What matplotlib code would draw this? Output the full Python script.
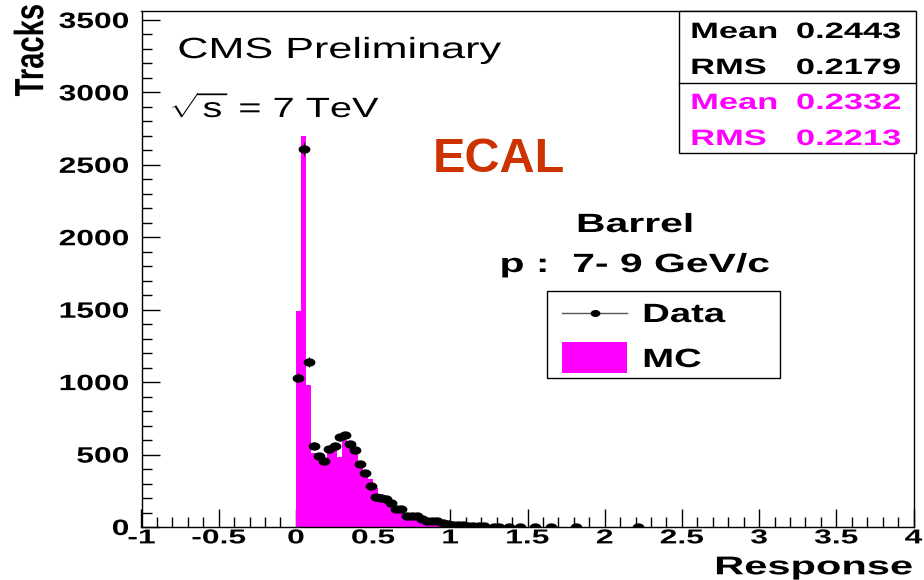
import numpy as np
import matplotlib
matplotlib.use("Agg")
import matplotlib.pyplot as plt
from matplotlib.patches import Rectangle
from matplotlib.lines import Line2D
from matplotlib.path import Path
from matplotlib.patheffects import AbstractPathEffect
from matplotlib.transforms import Affine2D
from matplotlib.ticker import MultipleLocator

# ---- histogram definition -------------------------------------------------
x_min, x_max, n_bins = -1.0, 4.0, 150
first_filled_bin = 30          # bin whose lower edge is Response = 0

# Data counts per bin, starting at Response = 0 (bin width 1/30)
data_counts = [1030, 2610, 1140, 560, 490, 455, 535, 560, 620, 632,
               573, 530, 435, 370, 280, 205, 200, 190, 163, 122,
               122, 77, 76, 75, 55, 42, 41, 40, 26, 24,
               16, 13, 12, 8, 8, 6, 5, 0, 3, 3,
               0, 2, 0, 2, 0, 0, 1, 0, 0, 1,
               0, 0, 0, 0, 1, 0, 0, 0, 0, 0,
               0, 0, 0, 0, 0, 0, 1]

# Simulation counts per bin, starting at Response = 0
mc_counts = [1490, 2700, 980, 510, 483, 451, 520, 540, 485, 600,
             573, 520, 451, 393, 329, 267, 228, 170, 152, 138,
             110, 92, 76, 62, 50, 40, 33, 27, 22, 18,
             14, 11, 9, 7, 6, 5, 4, 3, 3, 2,
             2, 2, 1, 1, 1, 1]

stat_labels = ["Mean", "RMS"]
data_stats = ["0.2443", "0.2179"]
mc_stats = ["0.2332", "0.2213"]

x_ticks = [-1, -0.5, 0, 0.5, 1, 1.5, 2, 2.5, 3, 3.5, 4]
y_ticks = [0, 500, 1000, 1500, 2000, 2500, 3000, 3500]

MAGENTA = "#ff00ff"
ECAL_COLOR = "#cc3300"
W, H = 924, 580


class WideGlyphs(AbstractPathEffect):
    """Render glyphs widened horizontally around an anchor edge."""

    def __init__(self, factor=1.5, anchor="left"):
        super().__init__()
        self.factor = factor
        self.anchor = anchor

    def draw_path(self, renderer, gc, tpath, affine, rgbFace=None):
        ext = tpath.get_extents(affine)
        if self.anchor == "left":
            x0 = ext.x0
        elif self.anchor == "right":
            x0 = ext.x1
        else:
            x0 = 0.5 * (ext.x0 + ext.x1)
        widen = Affine2D().translate(-x0, 0).scale(self.factor, 1).translate(x0, 0)
        renderer.draw_path(gc, tpath, affine + widen, rgbFace)


def fx(px):
    return px / W


def fy(py):
    return 1 - py / H


plt.rcParams["font.family"] = ["Liberation Sans", "DejaVu Sans"]
plt.rcParams["mathtext.fontset"] = "custom"
plt.rcParams["mathtext.rm"] = "Liberation Sans"
plt.rcParams["mathtext.it"] = "Liberation Sans"

fig = plt.figure(figsize=(W / 100, H / 100), dpi=100)
ax = fig.add_axes([fx(141.5), fy(527), fx(913.5) - fx(141.5), fy(11) - fy(527)])

edges = np.linspace(x_min, x_max, n_bins + 1)
centers = 0.5 * (edges[:-1] + edges[1:])
data_full = np.zeros(n_bins)
data_full[first_filled_bin:first_filled_bin + len(data_counts)] = data_counts
mc_full = np.zeros(n_bins)
mc_full[first_filled_bin:first_filled_bin + len(mc_counts)] = mc_counts

# simulation as a filled histogram
ax.stairs(mc_full, edges, fill=True, color=MAGENTA, lw=0, zorder=2)

# data points with Poisson errors
ellipse = Path.unit_circle().transformed(Affine2D().scale(1.5, 1.0))
mask = data_full > 0
ax.errorbar(centers[mask], data_full[mask], yerr=np.sqrt(data_full[mask]),
            fmt="none", ecolor="black", elinewidth=0.8, capsize=0, zorder=3)
ax.plot(centers[mask], data_full[mask], linestyle="none", marker=ellipse,
        markersize=7.5, color="black", zorder=4)

ax.set_xlim(x_min, x_max)
ax.set_ylim(0, 3562)
ax.set_xticks(x_ticks)
ax.set_xticklabels([f"{t:g}" for t in x_ticks])
ax.set_yticks(y_ticks)
ax.xaxis.set_minor_locator(MultipleLocator(0.1))
ax.yaxis.set_minor_locator(MultipleLocator(100))
ax.tick_params(which="both", direction="in", top=False, right=False, width=1)
ax.tick_params(which="major", length=13)
ax.tick_params(which="minor", length=7)
ax.tick_params(axis="x", pad=1, labelsize=14.5)
ax.tick_params(axis="y", pad=9, labelsize=16)
for sp in ax.spines.values():
    sp.set_linewidth(1)

for lbl in ax.get_xticklabels():
    lbl.set_fontweight("bold")
    lbl.set_path_effects([WideGlyphs(1.58, "center")])
for lbl in ax.get_yticklabels():
    lbl.set_fontweight("bold")
    lbl.set_path_effects([WideGlyphs(1.43, "right")])

# axis titles
fig.text(fx(913), fy(574.3), "Response", ha="right", va="baseline",
         fontsize=18.5, fontweight="bold",
         path_effects=[WideGlyphs(1.62, "right")])
fig.text(fx(45), fy(4), "Tracks", ha="right", va="top", rotation=90,
         fontsize=21, fontweight="bold",
         path_effects=[WideGlyphs(1.4, "center")])

# annotations
fig.text(fx(178), fy(58), "CMS Preliminary", ha="left", va="baseline",
         fontsize=21, path_effects=[WideGlyphs(1.48, "left")])
fig.text(fx(170), fy(117), r"$\sqrt{s}$ = 7 TeV", ha="left", va="baseline",
         fontsize=20, path_effects=[WideGlyphs(1.43, "left")])
fig.text(fx(433), fy(172), "ECAL", ha="left", va="baseline",
         fontsize=35, fontweight="bold", color=ECAL_COLOR)
fig.text(fx(635), fy(232), "Barrel", ha="center", va="baseline",
         fontsize=19, fontweight="bold",
         path_effects=[WideGlyphs(1.55, "center")])
fig.text(fx(635), fy(272), "p :  7- 9 GeV/c", ha="center", va="baseline",
         fontsize=19, fontweight="bold",
         path_effects=[WideGlyphs(1.55, "center")])

# legend box
fig.add_artist(Rectangle((fx(547), fy(378)), fx(780) - fx(547), fy(291) - fy(378),
                         transform=fig.transFigure, fill=False, ec="black", lw=1))
fig.add_artist(Line2D([fx(562), fx(627)], [fy(313), fy(313)],
                      transform=fig.transFigure, color="#555555", lw=1))
fig.add_artist(Line2D([fx(595)], [fy(313)], transform=fig.transFigure,
                      marker=ellipse, markersize=6, color="black", linestyle="none"))
fig.add_artist(Rectangle((fx(562), fy(373)), fx(627) - fx(562), fy(342) - fy(373),
                         transform=fig.transFigure, color=MAGENTA, lw=0))
fig.text(fx(643), fy(322), "Data", ha="left", va="baseline", fontsize=19,
         fontweight="bold", path_effects=[WideGlyphs(1.45, "left")])
fig.text(fx(643), fy(367), "MC", ha="left", va="baseline", fontsize=19,
         fontweight="bold", path_effects=[WideGlyphs(1.45, "left")])

# statistics box
fig.add_artist(Rectangle((fx(679), fy(153)), fx(916) - fx(679), fy(11) - fy(153),
                         transform=fig.transFigure, fc="white", ec="black", lw=1))
fig.add_artist(Line2D([fx(679), fx(916)], [fy(83), fy(83)],
                      transform=fig.transFigure, color="black", lw=1))
rows = [(38, stat_labels[0], data_stats[0], "black"),
        (74, stat_labels[1], data_stats[1], "black"),
        (109, stat_labels[0], mc_stats[0], MAGENTA),
        (145, stat_labels[1], mc_stats[1], MAGENTA)]
for base, name, val, col in rows:
    fig.text(fx(691), fy(base), name, ha="left", va="baseline", fontsize=16,
             fontweight="bold", color=col,
             path_effects=[WideGlyphs(1.55, "left")])
    fig.text(fx(901), fy(base), val, ha="right", va="baseline", fontsize=16,
             fontweight="bold", color=col,
             path_effects=[WideGlyphs(1.55, "right")])

fig.savefig("out.png", dpi=100)
